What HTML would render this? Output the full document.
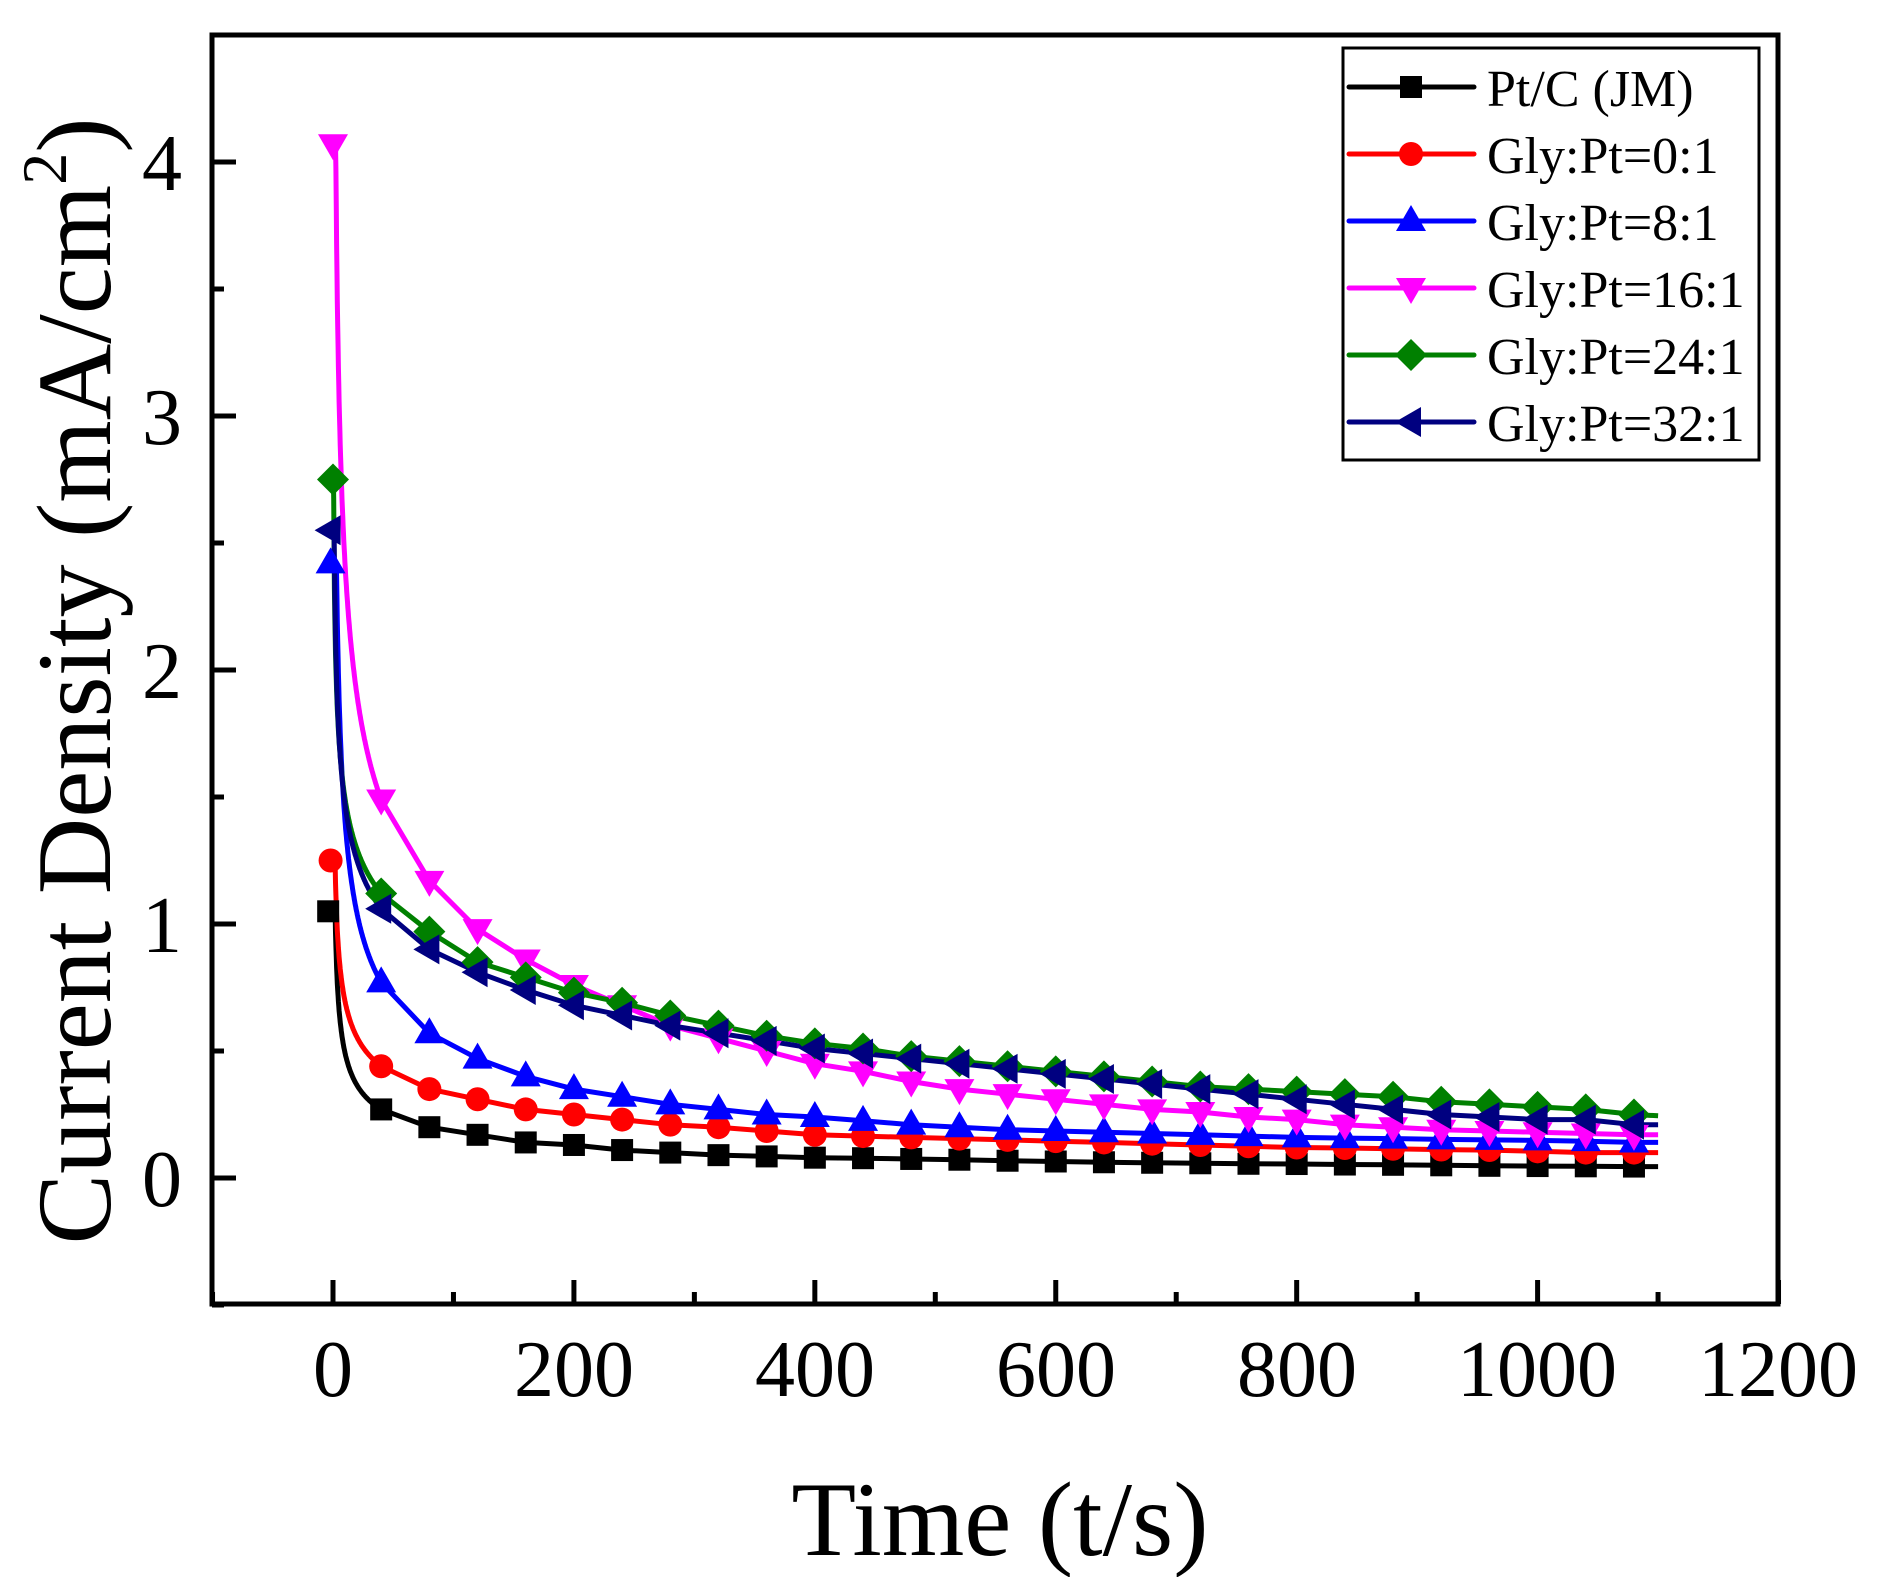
<!DOCTYPE html>
<html><head><meta charset="utf-8"><style>
html,body{margin:0;padding:0;background:#fff;}
svg{display:block;font-family:"Liberation Serif","Times New Roman",serif;}
</style></head><body>
<svg id="s" width="1881" height="1577" viewBox="0 0 1881 1577" xmlns="http://www.w3.org/2000/svg">
<rect width="1881" height="1577" fill="#fff"/>
<g id="data"></g>
<g id="axes" stroke="#000" stroke-width="5" fill="none">
<rect x="212" y="35" width="1566" height="1269"/>
</g>
<g id="ticks" stroke="#000" stroke-width="5"></g>
<g font-size="80" text-anchor="middle" fill="#000">
<text x="333" y="1396">0</text><text x="574" y="1396">200</text><text x="815" y="1396">400</text>
<text x="1056" y="1396">600</text><text x="1297" y="1396">800</text><text x="1537" y="1396">1000</text><text x="1778" y="1396">1200</text>
</g>
<g font-size="80" text-anchor="end" fill="#000">
<text x="182" y="1206">0</text><text x="182" y="952">1</text><text x="182" y="698">2</text><text x="182" y="444">3</text><text x="182" y="190">4</text>
</g>
<text x="1000" y="1555" font-size="106" text-anchor="middle">Time (t/s)</text>
<text transform="translate(110,681) rotate(-90)" font-size="106" text-anchor="middle">Current Density (mA/cm<tspan font-size="64" dy="-44">2</tspan><tspan dy="44">)</tspan></text>
<rect x="1343" y="48" width="416" height="412" fill="#fff" stroke="#000" stroke-width="3"/>
<g id="leg"></g>
</svg>
<script>
var NS="http://www.w3.org/2000/svg";
function X(t){return 333+1.2046*t;} function Y(v){return 1178-254*v;}
var tk=document.getElementById("ticks");
function ln(p,x1,y1,x2,y2){var l=document.createElementNS(NS,"line");l.setAttribute("x1",x1);l.setAttribute("y1",y1);l.setAttribute("x2",x2);l.setAttribute("y2",y2);p.appendChild(l);}
for(var t=-100;t<=1200;t+=100){var maj=(t%200==0);ln(tk,X(t),1304,X(t),1304-(maj?24:12));}
for(var v=-0.5;v<=4.5;v+=0.5){var maj=(Math.abs(v-Math.round(v))<0.01);ln(tk,212,Y(v),212+(maj?24:12),Y(v));}
var S=[
{c:"#000",m:"sq",t0:-4,d:[1.05,0.27,0.2,0.17,0.14,0.13,0.11,0.1,0.09,0.085,0.08,0.078,0.075,0.072,0.068,0.065,0.062,0.06,0.058,0.056,0.055,0.053,0.052,0.05,0.048,0.047,0.046,0.045],end:0.045},
{c:"#f00",m:"ci",t0:-2,d:[1.25,0.44,0.35,0.31,0.27,0.25,0.23,0.21,0.2,0.185,0.17,0.165,0.16,0.155,0.15,0.145,0.14,0.135,0.13,0.125,0.12,0.118,0.115,0.112,0.11,0.105,0.1,0.1],end:0.1},
{c:"#00f",m:"up",t0:-2,d:[2.42,0.77,0.57,0.47,0.4,0.35,0.32,0.29,0.27,0.25,0.24,0.225,0.21,0.2,0.19,0.185,0.18,0.175,0.17,0.165,0.16,0.157,0.155,0.152,0.15,0.148,0.145,0.14],end:0.14},
{c:"#f0f",m:"dn",t0:0,d:[4.07,1.49,1.17,0.98,0.86,0.76,0.68,0.6,0.55,0.5,0.45,0.42,0.38,0.35,0.33,0.31,0.29,0.27,0.26,0.24,0.23,0.21,0.2,0.19,0.185,0.18,0.175,0.17],end:0.17},
{c:"#008000",m:"di",t0:0,d:[2.75,1.12,0.97,0.85,0.79,0.73,0.69,0.64,0.6,0.56,0.53,0.51,0.48,0.46,0.44,0.42,0.4,0.38,0.36,0.35,0.34,0.33,0.32,0.3,0.29,0.28,0.27,0.25],end:0.245},
{c:"#000080",m:"le",t0:-2,d:[2.55,1.06,0.9,0.81,0.74,0.68,0.64,0.6,0.57,0.54,0.51,0.49,0.47,0.45,0.43,0.41,0.39,0.37,0.35,0.33,0.31,0.29,0.27,0.25,0.24,0.23,0.23,0.21],end:0.21}
];
function marker(p,type,x,y,c){var e;
 if(type=="sq"){e=document.createElementNS(NS,"rect");e.setAttribute("x",x-11);e.setAttribute("y",y-11);e.setAttribute("width",22);e.setAttribute("height",22);}
 else if(type=="ci"){e=document.createElementNS(NS,"circle");e.setAttribute("cx",x);e.setAttribute("cy",y);e.setAttribute("r",12);}
 else{e=document.createElementNS(NS,"polygon");var pts;
  if(type=="up")pts=[[x,y-16],[x+15,y+10],[x-15,y+10]];
  else if(type=="dn")pts=[[x,y+16],[x+15,y-10],[x-15,y-10]];
  else if(type=="di")pts=[[x,y-16],[x+16,y],[x,y+16],[x-16,y]];
  else pts=[[x-16,y],[x+10,y-15],[x+10,y+15]];
  e.setAttribute("points",pts.map(function(q){return q.join(",")}).join(" "));}
 e.setAttribute("fill",c);p.appendChild(e);}
var g=document.getElementById("data");
S.forEach(function(s){var pts=[[X(s.t0),Y(s.d[0])]];
 var v0=s.d[0],v40=s.d[1];var p=Math.log(s.d[1]/s.d[2])/Math.log(2);
 for(var t=0.3;t<40;t+=0.3){var v=v40*Math.pow(40/t,p);if(v>v0)v=v0;pts.push([X(t),Y(v)]);}
 for(var i=1;i<s.d.length;i++)pts.push([X(40*i),Y(s.d[i])]);
 pts.push([X(1100),Y(s.end)]);
 var pl=document.createElementNS(NS,"polyline");pl.setAttribute("points",pts.map(function(q){return q[0].toFixed(1)+","+q[1].toFixed(1)}).join(" "));
 pl.setAttribute("fill","none");pl.setAttribute("stroke",s.c);pl.setAttribute("stroke-width","5");pl.setAttribute("stroke-linejoin","round");g.appendChild(pl);
});
S.forEach(function(s){for(var i=0;i<s.d.length;i++)marker(g,s.m,i==0?X(s.t0):X(40*i),Y(s.d[i]),s.c);});
var lg=document.getElementById("leg");var names=["Pt/C (JM)","Gly:Pt=0:1","Gly:Pt=8:1","Gly:Pt=16:1","Gly:Pt=24:1","Gly:Pt=32:1"];
var ys=[87,154,221,288,355,422];
S.forEach(function(s,i){var l=document.createElementNS(NS,"line");l.setAttribute("x1",1349);l.setAttribute("x2",1474);l.setAttribute("y1",ys[i]);l.setAttribute("y2",ys[i]);l.setAttribute("stroke",s.c);l.setAttribute("stroke-width",5);l.setAttribute("stroke-linecap","round");lg.appendChild(l);
 marker(lg,s.m,1411,ys[i],s.c);
 var tx=document.createElementNS(NS,"text");tx.setAttribute("x",1487);tx.setAttribute("y",ys[i]+19);tx.setAttribute("font-size","52");tx.textContent=names[i];lg.appendChild(tx);});
</script>
</body></html>
